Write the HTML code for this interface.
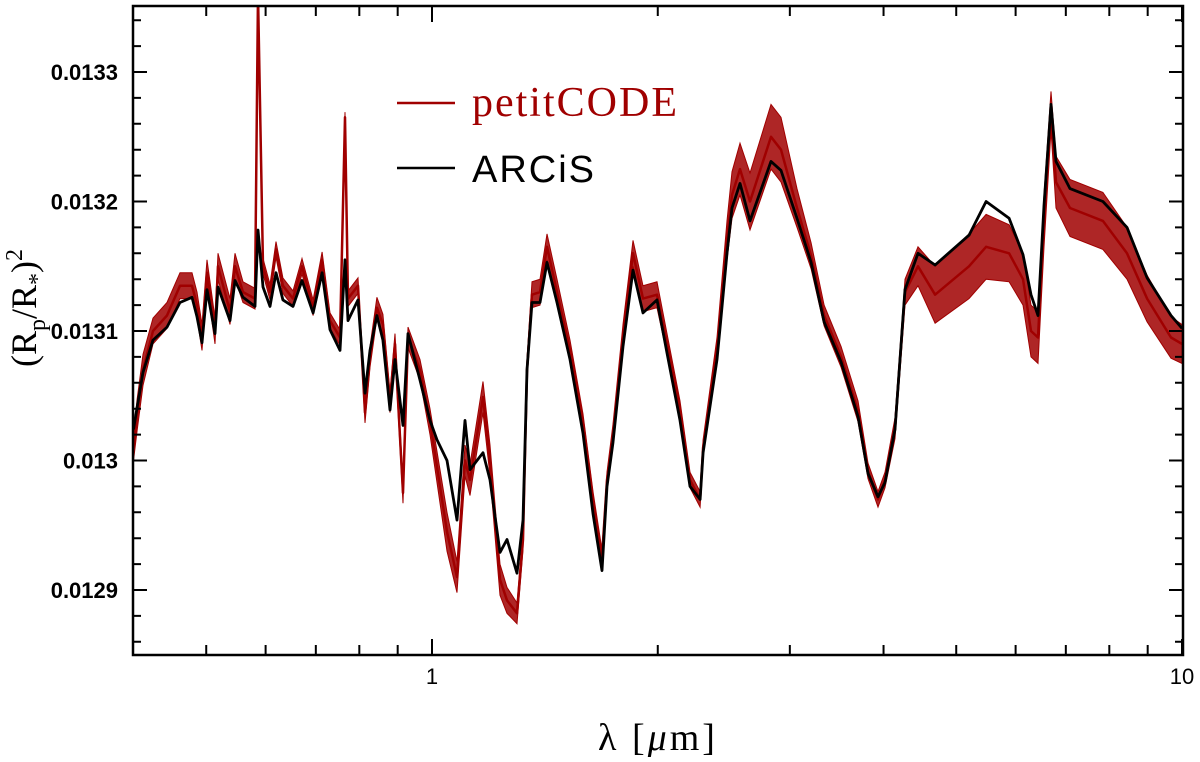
<!DOCTYPE html>
<html><head><meta charset="utf-8"><style>
body{margin:0;background:#fff}
svg text{font-family:"Liberation Sans",sans-serif}
</style></head><body>
<svg id="chart" width="1200" height="757" viewBox="0 0 1200 757" xmlns="http://www.w3.org/2000/svg">
<defs><clipPath id="clip"><rect x="133" y="6" width="1050" height="649"/></clipPath></defs>
<g id="plot"></g>
<g id="axes"></g>
<g>
<line x1="397" y1="103" x2="455" y2="103" stroke="#a00000" stroke-width="2.5"/>
<text x="472" y="116" font-size="42" letter-spacing="2" fill="#a00000" style="font-family:'Liberation Serif',serif">petitCODE</text>
<line x1="397" y1="168" x2="455" y2="168" stroke="#000" stroke-width="2.5"/>
<text x="472" y="182" font-size="38" letter-spacing="2" fill="#000">ARCiS</text>
</g>
<text x="658" y="750" font-size="38" letter-spacing="3" text-anchor="middle" style="font-family:'Liberation Serif',serif">λ [<tspan font-style="italic">μ</tspan>m]</text>
<text transform="translate(36,308) rotate(-90)" font-size="36" text-anchor="middle" style="font-family:'Liberation Serif',serif">(R<tspan font-size="24" dy="9">p</tspan><tspan dy="-9">/R</tspan><tspan font-size="24" dy="9">*</tspan><tspan dy="-9">)</tspan><tspan font-size="24" dy="-14">2</tspan></text>
</svg>
<script>
const wavelengths=[0.400,0.4044,0.4118,0.4246,0.4433,0.4613,0.4786,0.4860,0.4935,0.5012,0.5136,0.5184,0.5379,0.5462,0.5598,0.5808,0.5861,0.5952,0.6081,0.6194,0.6328,0.6527,0.6710,0.6941,0.7137,0.7311,0.7540,0.7656,0.7727,0.7968,0.8141,0.8267,0.8445,0.8602,0.8790,0.8927,0.9148,0.9290,0.9638,0.9939,1.0155,1.0471,1.0798,1.1066,1.1238,1.1695,1.1949,1.2320,1.2589,1.2980,1.3223,1.3386,1.3594,1.3932,1.4234,1.4678,1.5276,1.5898,1.6395,1.6853,1.7113,1.7432,1.7975,1.8535,1.9112,1.9953,2.0576,2.1414,2.2080,2.2774,2.2985,2.3988,2.4210,2.4734,2.5119,2.5746,2.6546,2.8314,2.9194,3.0671,3.2020,3.3327,3.5109,3.6983,3.8134,3.9326,4.0179,4.1432,4.2730,4.4463,4.6855,5.1999,5.4802,5.8806,6.1376,6.2905,6.4269,6.5464,6.6885,6.7920,7.0908,7.8451,8.4472,8.9826,9.6678,10.0];
// values in ppm (x1e-6)
const arcis=[13024,13041,13068,13093,13103,13122,13126,13111,13091,13132,13098,13134,13108,13139,13126,13119,13178,13134,13119,13145,13124,13119,13139,13114,13145,13101,13085,13155,13108,13124,13052,13085,13112,13093,13039,13078,13027,13098,13062,13031,13016,13000,12954,13031,12993,13006,12985,12929,12939,12913,12954,13070,13122,13122,13153,13122,13078,13021,12959,12915,12980,13014,13088,13147,13114,13124,13083,13031,12980,12970,13006,13078,13102,13160,13195,13214,13185,13231,13224,13187,13153,13107,13076,13034,12990,12972,12983,13024,13132,13160,13151,13174,13200,13187,13159,13128,13112,13197,13275,13231,13210,13200,13180,13141,13112,13102];
const petit=[13010,13035,13070,13100,13112,13135,13135,13120,13095,13145,13100,13150,13115,13150,13130,13125,13360,13150,13130,13163,13135,13125,13150,13118,13155,13108,13095,13265,13125,13135,13037,13080,13118,13105,13045,13090,12975,13095,13070,13030,12995,12945,12910,13000,12985,13049,13000,12908,12892,12882,12939,13070,13128,13130,13165,13130,13085,13030,12970,12925,12985,13020,13095,13160,13125,13128,13090,13040,12985,12970,13010,13085,13110,13170,13205,13225,13200,13250,13240,13195,13158,13112,13080,13038,12992,12970,12985,13025,13130,13150,13128,13150,13165,13160,13140,13100,13095,13185,13270,13215,13195,13185,13160,13125,13095,13090];
const petitSpread=[10,12,12,10,10,10,10,10,10,10,10,10,10,10,8,8,4,6,6,6,6,6,6,6,6,6,6,4,6,6,8,8,8,8,8,8,8,8,8,10,12,15,12,12,12,12,12,12,10,8,8,8,10,10,10,10,8,6,6,6,6,8,10,10,10,10,8,6,6,6,6,10,12,15,18,20,22,25,25,15,10,8,8,8,6,6,6,8,10,15,22,25,25,22,20,20,20,20,15,20,22,22,20,18,16,15];
const yTicks=[12900,13000,13100,13200,13300];
const yTickLabels=["0.0129","0.013","0.0131","0.0132","0.0133"];
const xMajor=[1,10];
const xMajorLabels=["1","10"];
const xMinor=[0.5,0.6,0.7,0.8,0.9,2,3,4,5,6,7,8,9];

const L=133,R=1183,T=6,B=655;
const xs=l=>432+750*Math.log10(l);
const ys=v=>331-(v-13100)*1.295;
const NS='http://www.w3.org/2000/svg';
function mk(tag,parent,attrs){const e=document.createElementNS(NS,tag);for(const k in attrs)e.setAttribute(k,attrs[k]);parent.appendChild(e);return e;}
const plot=document.getElementById('plot'),axes=document.getElementById('axes');
// noise band for petitCODE
let up=petit.map((v,i)=>xs(wavelengths[i]).toFixed(1)+','+ys(v+petitSpread[i]).toFixed(1));
let lo=petit.map((v,i)=>xs(wavelengths[i]).toFixed(1)+','+ys(v-petitSpread[i]).toFixed(1)).reverse();
const band=mk('polygon',plot,{points:up.concat(lo).join(' '),fill:'#a00000','fill-opacity':0.85,stroke:'#a00000','stroke-width':1,'clip-path':'url(#clip)'});


function line(vals,color,name,w){
 const d=vals.map((v,i)=>(i?'L':'M')+xs(wavelengths[i]).toFixed(1)+','+ys(v).toFixed(1)).join(' ');
 const p=mk('path',plot,{d:d,fill:'none',stroke:color,'stroke-width':w,'clip-path':'url(#clip)','stroke-linejoin':'round'});
 
 
}
line(petit,'#a00000','petitcode-line',2.5);
line(arcis,'#000','arcis-line',2.8);
const fr=mk('rect',axes,{x:L,y:T,width:R-L,height:B-T,fill:'none',stroke:'#000','stroke-width':2.5});


for(let v=12860;v<=13340;v+=20){
 const y=ys(v);if(y<T||y>B)continue;
 const major=yTicks.includes(v),len=major?14:8;
 const t=mk('path',axes,{d:`M${L},${y}h${len}M${R},${y}h${-len}`,stroke:'#000','stroke-width':2});
 
 
}
yTicks.forEach((v,i)=>{
 const t=mk('text',axes,{x:118,y:ys(v)+8,'text-anchor':'end','font-size':22,'font-weight':'bold'});
 t.textContent=yTickLabels[i];
 
 
});
xMinor.forEach(l=>{const x=xs(l);
 const t=mk('path',axes,{d:`M${x},${B}v-10M${x},${T}v10`,stroke:'#000','stroke-width':2});
 
 
});
xMajor.forEach((l,i)=>{const x=xs(l);
 const t=mk('path',axes,{d:`M${x},${B}v-16M${x},${T}v16`,stroke:'#000','stroke-width':2});
 
 
 const s=mk('text',axes,{x:x,y:684,'text-anchor':'middle','font-size':22});
 s.textContent=xMajorLabels[i];
 
 
});
</script>
</body></html>
